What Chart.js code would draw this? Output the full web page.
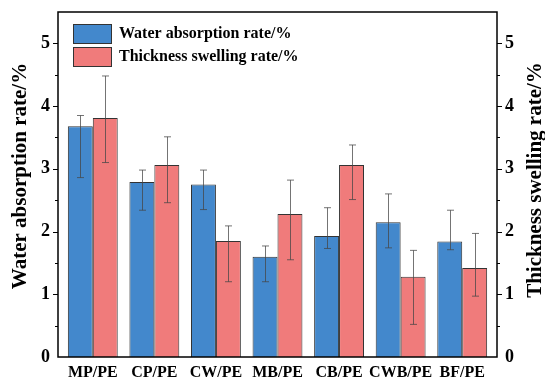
<!DOCTYPE html>
<html>
<head>
<meta charset="utf-8">
<script src="https://cdn.jsdelivr.net/npm/chart.js@4.4.1/dist/chart.umd.min.js"></script>
<style>
  html, body { margin: 0; padding: 0; background: #fff; }
  #wrap { width: 545px; height: 379px; }
</style>
</head>
<body>
<div id="wrap"><canvas id="chart" width="545" height="379"></canvas></div>
<script>
const categories = ["MP/PE", "CP/PE", "CW/PE", "MB/PE", "CB/PE", "CWB/PE", "BF/PE"];
const waterAbs = [3.68, 2.79, 2.75, 1.60, 1.93, 2.15, 1.84];
const waterHigh = [3.85, 2.98, 2.98, 1.77, 2.38, 2.60, 2.34];
const waterLow = [2.86, 2.34, 2.35, 1.20, 1.73, 1.74, 1.71];
const swelling = [3.81, 3.06, 1.85, 2.28, 3.06, 1.28, 1.42];
const swellHigh = [4.48, 3.51, 2.09, 2.82, 3.38, 1.70, 1.97];
const swellLow = [3.10, 2.46, 1.20, 1.55, 2.51, 0.52, 0.97];
const yTicks = [0, 1, 2, 3, 4, 5];
const yTitles = ["Water absorption rate/%", "Thickness swelling rate/%"];

const serif = "'Liberation Serif', 'Times New Roman', serif";
const blue = "#4388CC";
const red = "#F07B7B";
const gap = 4; // frame sits a little outside the category range

// error bars, box, ticks, titles and legend drawn on top
const extras = {
    id: "extras",
    afterDatasetsDraw(chart) {
        const ctx = chart.ctx;
        const errs = [[waterHigh, waterLow], [swellHigh, swellLow]];
        ctx.save();
        ctx.strokeStyle = "rgba(70,70,70,0.75)";
        ctx.lineWidth = 1;
        chart.data.datasets.forEach((ds, di) => {
            const meta = chart.getDatasetMeta(di);
            const ys = chart.scales[ds.yAxisID];
            meta.data.forEach((bar, i) => {
                const x = Math.round(bar.x) + 0.5;
                const yh = ys.getPixelForValue(errs[di][0][i]);
                const yl = ys.getPixelForValue(errs[di][1][i]);
                ctx.beginPath();
                ctx.moveTo(x, yh); ctx.lineTo(x, yl);
                ctx.moveTo(x - 3.5, yh); ctx.lineTo(x + 3.5, yh);
                ctx.moveTo(x - 3.5, yl); ctx.lineTo(x + 3.5, yl);
                ctx.stroke();
            });
        });
        ctx.restore();
    },
    afterDraw(chart) {
        const ctx = chart.ctx;
        const a = chart.chartArea;
        const left = a.left - gap, right = a.right + gap;
        ctx.save();
        ctx.strokeStyle = "#000";
        ctx.lineWidth = 1.5;
        ctx.strokeRect(left, a.top, right - left, a.bottom - a.top);
        // major and minor ticks, outward
        const yl = chart.scales.y;
        ctx.lineWidth = 1.2;
        for (let v = 0.5; v <= 5; v += 0.5) {
            const p = Math.round(yl.getPixelForValue(v)) + 0.5;
            const len = Number.isInteger(v) ? 5 : 3;
            ctx.beginPath();
            ctx.moveTo(left, p); ctx.lineTo(left - len, p);
            ctx.moveTo(right, p); ctx.lineTo(right + len, p);
            ctx.stroke();
        }
        // both axis titles read bottom to top
        ctx.fillStyle = "#000";
        ctx.font = "bold 21px " + serif;
        ctx.textAlign = "center";
        ctx.textBaseline = "middle";
        [[21, 176], [536, 180]].forEach(([x, y], i) => {
            ctx.save();
            ctx.translate(x, y);
            ctx.rotate(-Math.PI / 2);
            ctx.fillText(yTitles[i], 0, 0);
            ctx.restore();
        });
        // legend inside the plot
        ctx.font = "bold 16px " + serif;
        ctx.textAlign = "left";
        chart.data.datasets.forEach((ds, di) => {
            const top = 24 + di * 23;
            ctx.fillStyle = ds.backgroundColor;
            ctx.fillRect(73, top, 39, 20);
            ctx.strokeStyle = "#333";
            ctx.lineWidth = 1;
            ctx.strokeRect(73.5, top + 0.5, 38, 19);
            ctx.fillStyle = "#000";
            ctx.fillText(ds.label, 119, top + 10);
        });
        ctx.restore();
    }
};

const yAxis = (pos, w) => ({
    type: "linear",
    position: pos,
    min: 0,
    max: 5.5,
    afterBuildTicks: (s) => { s.ticks = yTicks.map(v => ({ value: v })); },
    afterFit: (s) => {
        s.width = w;
        s.paddingTop = 0;
        s.paddingBottom = 0;
    },
    grid: { display: false, drawTicks: false },
    border: { display: false },
    ticks: {
        color: "#000",
        padding: 8 + gap,
        font: { family: serif, size: 18, weight: "bold" }
    }
});

new Chart(document.getElementById("chart"), {
    type: "bar",
    data: {
        labels: categories,
        datasets: [
            {
                label: "Water absorption rate/%",
                data: waterAbs,
                backgroundColor: blue,
                borderColor: "#333",
                borderWidth: 1,
                yAxisID: "y",
                barPercentage: 1,
                categoryPercentage: 0.81
            },
            {
                label: "Thickness swelling rate/%",
                data: swelling,
                backgroundColor: red,
                borderColor: "#333",
                borderWidth: 1,
                yAxisID: "y2",
                barPercentage: 1,
                categoryPercentage: 0.81
            }
        ]
    },
    options: {
        responsive: false,
        animation: false,
        layout: { padding: { top: 12, left: 0, right: 0, bottom: 0 } },
        plugins: {
            legend: { display: false },
            tooltip: { enabled: false }
        },
        scales: {
            x: {
                grid: { display: false, drawTicks: false },
                border: { display: false },
                afterFit: (s) => {
                    s.height = 22;
                    s.paddingLeft = 0;
                    s.paddingRight = 0;
                },
                ticks: {
                    color: "#000",
                    padding: 6,
                    autoSkip: false,
                    maxRotation: 0,
                    font: { family: serif, size: 16, weight: "bold" }
                }
            },
            y: yAxis("left", 58 + gap),
            y2: yAxis("right", 48 + gap)
        }
    },
    plugins: [extras]
});
</script>
</body>
</html>
